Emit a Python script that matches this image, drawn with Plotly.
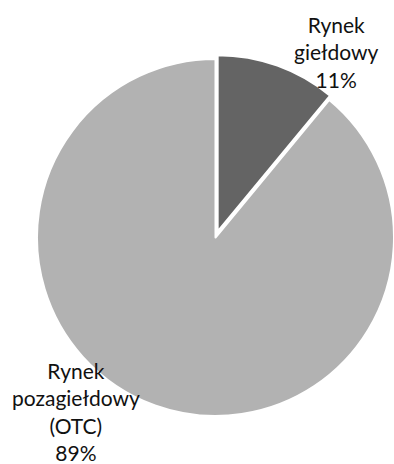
import math
import plotly.graph_objects as go

# ---- data ----
labels = ["Rynek<br>giełdowy", "Rynek<br>pozagiełdowy<br>(OTC)"]
values = [11, 89]
colors = ["#646464", "#b2b2b2"]

W, H = 394, 464
TRANSPARENT = "rgba(0,0,0,0)"

# geometry (pixels)
cx, cy, r = 215.5, 237.5, 178.5
pull_px = 6.4
total = sum(values)
bis = math.radians(values[0] / total * 360 / 2)
bx = cx + pull_px * math.sin(bis)
by = cy - pull_px * math.cos(bis)
rb = min(W - bx, r)


def dom(x0, x1, y0, y1):
    return dict(x=[max(0, x0 / W), min(1, x1 / W)],
                y=[max(0, 1 - y1 / H), min(1, 1 - y0 / H)])


common = dict(values=values, sort=False, direction="clockwise", rotation=0,
              textinfo="none", hoverinfo="skip", showlegend=False)

# base trace: large (OTC) slice
base = go.Pie(labels=labels, marker=dict(colors=[TRANSPARENT, colors[1]],
                                          line=dict(color=[TRANSPARENT, "white"], width=2)),
              domain=dom(cx - r, cx + r, cy - r, cy + r), **common)
# pulled slice: exchange market
pulled = go.Pie(labels=labels, marker=dict(colors=[colors[0], TRANSPARENT],
                                            line=dict(color=["white", TRANSPARENT], width=2)),
                domain=dom(bx - rb, bx + rb, by - rb, by + rb), **common)

fig = go.Figure([base, pulled])

pcts = [round(v / total * 100) for v in values]
label_pos = [(336, 51.5), (76, 411)]
for lab, p, (lx, ly) in zip(labels, pcts, label_pos):
    fig.add_annotation(text=f"{lab}<br>{p}%", x=lx / W, y=1 - ly / H,
                       xref="paper", yref="paper", xanchor="center", yanchor="middle",
                       showarrow=False, align="center",
                       font=dict(family="Lato", size=21, color="#111111"))

fig.update_layout(width=W, height=H, margin=dict(l=0, r=0, t=0, b=0),
                  paper_bgcolor="white", plot_bgcolor="white")

fig.write_html("out.html")
